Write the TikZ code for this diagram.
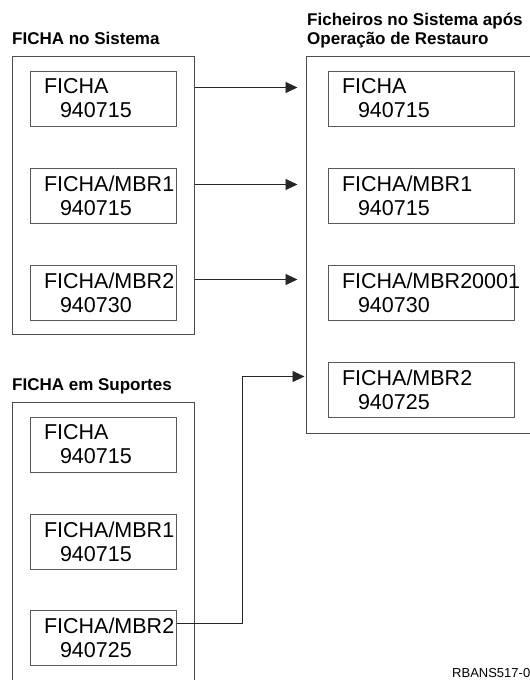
\documentclass[tikz,border=0pt]{standalone}
\usepackage{fontspec}
\setmainfont{Liberation Sans}
\usepackage{xcolor}
\usetikzlibrary{arrows.meta, positioning}
\tikzset{
    myarrow/.style={draw=black!85, line width=0.9pt, -{Triangle[length=12pt,width=11pt]}},
    outer/.style={draw=black!70, line width=1pt, rectangle, minimum width=182pt},
    file/.style={draw=black!65, line width=1pt, rectangle, inner sep=0pt, minimum height=55pt,
        align=left, font=\fontsize{21.5}{24}\selectfont},
    title/.style={anchor=base west, inner sep=0pt, font=\fontsize{17}{20}\selectfont\bfseries}
}
\newcommand{\filetxt}[2]{\hspace*{14pt}#1\\\hspace*{30pt}#2}

\begin{document}
\begin{tikzpicture}[x=1pt, y=1pt]
    \useasboundingbox (0,0) rectangle (530,-680);
    \clip (0,0) rectangle (530,-680);
    % titles
    \node (t1) [title] at (12,-44) {FICHA no Sistema};
    \node (t2) [title] at (307,-25) {Ficheiros no Sistema após};
    \node (t3) [title] at (307,-44) {Operação de Restauro};
    \node (t4) [title] at (12,-390) {FICHA em Suportes};
    % containers
    \node (sys) [outer, minimum height=278pt] at (103,-195) {};
    \node (med) [outer, minimum height=298pt] at (103,-551) {};
    \node (res) [outer, minimum width=240pt, minimum height=377pt] at (426,-244.5) {};
    % files on the system
    \node (a1) [file, text width=146pt] at (103,-98.5) {\filetxt{FICHA}{940715}};
    \node (a2) [file, text width=146pt, below=41pt of a1] {\filetxt{FICHA/MBR1}{940715}};
    \node (a3) [file, text width=146pt, below=41pt of a2] {\filetxt{FICHA/MBR2}{940730}};
    % files on the media
    \node (m1) [file, text width=146pt] at (103,-444.5) {\filetxt{FICHA}{940715}};
    \node (m2) [file, text width=146pt, below=41pt of m1] {\filetxt{FICHA/MBR1}{940715}};
    \node (m3) [file, text width=146pt, below=40pt of m2] {\filetxt{FICHA/MBR2}{940725}};
    % files after the restore
    \node (r1) [file, text width=186pt] at (421,-98.5) {\filetxt{FICHA}{940715}};
    \node (r2) [file, text width=186pt, below=41pt of r1] {\filetxt{FICHA/MBR1}{940715}};
    \node (r3) [file, text width=186pt, below=41pt of r2] {\filetxt{FICHA/MBR20001}{940730}};
    \node (r4) [file, text width=186pt, below=41pt of r3] {\filetxt{FICHA/MBR2}{940725}};
    \node (fig) [anchor=base west, inner sep=0pt, font=\fontsize{13}{15}\selectfont] at (452,-677) {RBANS517-0};
    % arrows
    \draw [myarrow, shorten >=8pt] ([yshift=11pt]a1.east -| sys.east) -- ([yshift=11pt]a1.east -| res.west);
    \draw [myarrow, shorten >=8pt] ([yshift=11pt]a2.east -| sys.east) -- ([yshift=11pt]a2.east -| res.west);
    \draw [myarrow, shorten >=8pt] ([yshift=13pt]a3.east -| sys.east) -- ([yshift=13pt]a3.east -| res.west);
    \draw [myarrow, shorten >=1pt] ([yshift=14pt]m3.east) -- ++(66,0) |- ([yshift=13pt]r4.west -| res.west);
\end{tikzpicture}
\end{document}
